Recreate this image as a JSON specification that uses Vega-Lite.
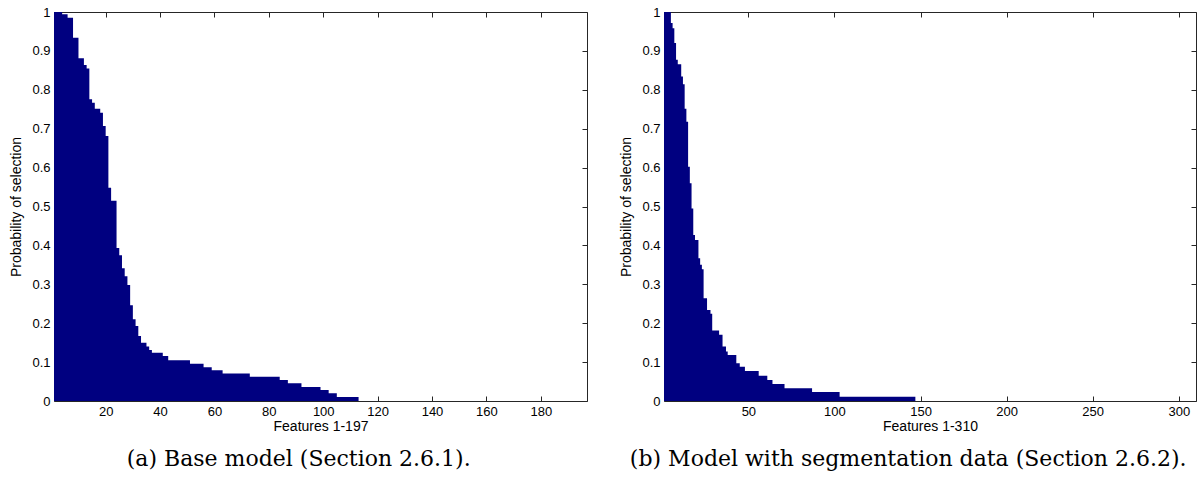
{
  "$schema": "https://vega.github.io/schema/vega-lite/v6.json",
  "padding": {"left": 9, "top": 5, "right": 2, "bottom": 5},
  "spacing": 31,
  "config": {
    "font": "Liberation Sans",
    "view": {"stroke": "#262626", "strokeWidth": 1},
    "axis": {
      "domain": false, "grid": false, "ticks": true, "tickSize": -5, "tickColor": "#262626",
      "labelPadding": 9, "labelFont": "Liberation Sans", "labelFontSize": 13, "labelColor": "#000",
      "titleFont": "Liberation Sans", "titleFontSize": 14, "titleFontWeight": "normal", "titleColor": "#000"
    }
  },
  "datasets": {
    "a": [
      {"feature":1,"prob":1},{"feature":2,"prob":1},{"feature":3,"prob":1},{"feature":4,"prob":0.994},{"feature":5,"prob":0.994},
      {"feature":6,"prob":0.985},{"feature":7,"prob":0.985},{"feature":8,"prob":0.934},{"feature":9,"prob":0.934},{"feature":10,"prob":0.881},
      {"feature":11,"prob":0.881},{"feature":12,"prob":0.864},{"feature":13,"prob":0.855},{"feature":14,"prob":0.776},{"feature":15,"prob":0.767},
      {"feature":16,"prob":0.751},{"feature":17,"prob":0.751},{"feature":18,"prob":0.741},{"feature":19,"prob":0.707},{"feature":20,"prob":0.681},
      {"feature":21,"prob":0.548},{"feature":22,"prob":0.515},{"feature":23,"prob":0.515},{"feature":24,"prob":0.393},{"feature":25,"prob":0.375},
      {"feature":26,"prob":0.341},{"feature":27,"prob":0.321},{"feature":28,"prob":0.298},{"feature":29,"prob":0.246},{"feature":30,"prob":0.21},
      {"feature":31,"prob":0.193},{"feature":32,"prob":0.167},{"feature":33,"prob":0.15},{"feature":34,"prob":0.15},{"feature":35,"prob":0.14},
      {"feature":36,"prob":0.131},{"feature":37,"prob":0.124},{"feature":38,"prob":0.124},{"feature":39,"prob":0.124},{"feature":40,"prob":0.124},
      {"feature":41,"prob":0.116},{"feature":42,"prob":0.116},{"feature":43,"prob":0.105},{"feature":44,"prob":0.105},{"feature":45,"prob":0.105},
      {"feature":46,"prob":0.105},{"feature":47,"prob":0.105},{"feature":48,"prob":0.105},{"feature":49,"prob":0.105},{"feature":50,"prob":0.105},
      {"feature":51,"prob":0.096},{"feature":52,"prob":0.096},{"feature":53,"prob":0.096},{"feature":54,"prob":0.096},{"feature":55,"prob":0.096},
      {"feature":56,"prob":0.087},{"feature":57,"prob":0.087},{"feature":58,"prob":0.087},{"feature":59,"prob":0.079},{"feature":60,"prob":0.079},
      {"feature":61,"prob":0.079},{"feature":62,"prob":0.079},{"feature":63,"prob":0.071},{"feature":64,"prob":0.071},{"feature":65,"prob":0.071},
      {"feature":66,"prob":0.071},{"feature":67,"prob":0.071},{"feature":68,"prob":0.071},{"feature":69,"prob":0.071},{"feature":70,"prob":0.071},
      {"feature":71,"prob":0.071},{"feature":72,"prob":0.071},{"feature":73,"prob":0.0625},{"feature":74,"prob":0.0625},{"feature":75,"prob":0.0625},
      {"feature":76,"prob":0.0625},{"feature":77,"prob":0.0625},{"feature":78,"prob":0.0625},{"feature":79,"prob":0.0625},{"feature":80,"prob":0.0625},
      {"feature":81,"prob":0.0625},{"feature":82,"prob":0.0625},{"feature":83,"prob":0.0625},{"feature":84,"prob":0.054},{"feature":85,"prob":0.054},
      {"feature":86,"prob":0.054},{"feature":87,"prob":0.0455},{"feature":88,"prob":0.0455},{"feature":89,"prob":0.0455},{"feature":90,"prob":0.0455},
      {"feature":91,"prob":0.0455},{"feature":92,"prob":0.036},{"feature":93,"prob":0.036},{"feature":94,"prob":0.036},{"feature":95,"prob":0.036},
      {"feature":96,"prob":0.036},{"feature":97,"prob":0.036},{"feature":98,"prob":0.036},{"feature":99,"prob":0.028},{"feature":100,"prob":0.028},
      {"feature":101,"prob":0.028},{"feature":102,"prob":0.0197},{"feature":103,"prob":0.0197},{"feature":104,"prob":0.0197},{"feature":105,"prob":0.0103},
      {"feature":106,"prob":0.0103},{"feature":107,"prob":0.0103},{"feature":108,"prob":0.0103},{"feature":109,"prob":0.0103},{"feature":110,"prob":0.0103},
      {"feature":111,"prob":0.0103},{"feature":112,"prob":0.0103},{"feature":113,"prob":0}
    ],
    "b": [
      {"feature":1,"prob":1},{"feature":2,"prob":1},{"feature":3,"prob":1},{"feature":4,"prob":1},{"feature":5,"prob":0.972},
      {"feature":6,"prob":0.958},{"feature":7,"prob":0.92},{"feature":8,"prob":0.877},{"feature":9,"prob":0.866},{"feature":10,"prob":0.866},
      {"feature":11,"prob":0.834},{"feature":12,"prob":0.814},{"feature":13,"prob":0.751},{"feature":14,"prob":0.718},{"feature":15,"prob":0.602},
      {"feature":16,"prob":0.56},{"feature":17,"prob":0.495},{"feature":18,"prob":0.427},{"feature":19,"prob":0.414},{"feature":20,"prob":0.414},
      {"feature":21,"prob":0.367},{"feature":22,"prob":0.35},{"feature":23,"prob":0.339},{"feature":24,"prob":0.264},{"feature":25,"prob":0.264},
      {"feature":26,"prob":0.234},{"feature":27,"prob":0.234},{"feature":28,"prob":0.224},{"feature":29,"prob":0.181},{"feature":30,"prob":0.181},
      {"feature":31,"prob":0.181},{"feature":32,"prob":0.181},{"feature":33,"prob":0.17},{"feature":34,"prob":0.17},{"feature":35,"prob":0.14},
      {"feature":36,"prob":0.14},{"feature":37,"prob":0.127},{"feature":38,"prob":0.118},{"feature":39,"prob":0.118},{"feature":40,"prob":0.118},
      {"feature":41,"prob":0.118},{"feature":42,"prob":0.118},{"feature":43,"prob":0.097},{"feature":44,"prob":0.097},{"feature":45,"prob":0.088},
      {"feature":46,"prob":0.088},{"feature":47,"prob":0.088},{"feature":48,"prob":0.077},{"feature":49,"prob":0.077},{"feature":50,"prob":0.077},
      {"feature":51,"prob":0.077},{"feature":52,"prob":0.077},{"feature":53,"prob":0.077},{"feature":54,"prob":0.077},{"feature":55,"prob":0.077},
      {"feature":56,"prob":0.065},{"feature":57,"prob":0.065},{"feature":58,"prob":0.065},{"feature":59,"prob":0.065},{"feature":60,"prob":0.065},
      {"feature":61,"prob":0.054},{"feature":62,"prob":0.054},{"feature":63,"prob":0.054},{"feature":64,"prob":0.044},{"feature":65,"prob":0.044},
      {"feature":66,"prob":0.044},{"feature":67,"prob":0.044},{"feature":68,"prob":0.044},{"feature":69,"prob":0.044},{"feature":70,"prob":0.044},
      {"feature":71,"prob":0.033},{"feature":72,"prob":0.033},{"feature":73,"prob":0.033},{"feature":74,"prob":0.033},{"feature":75,"prob":0.033},
      {"feature":76,"prob":0.033},{"feature":77,"prob":0.033},{"feature":78,"prob":0.033},{"feature":79,"prob":0.033},{"feature":80,"prob":0.033},
      {"feature":81,"prob":0.033},{"feature":82,"prob":0.033},{"feature":83,"prob":0.033},{"feature":84,"prob":0.033},{"feature":85,"prob":0.033},
      {"feature":86,"prob":0.033},{"feature":87,"prob":0.023},{"feature":88,"prob":0.023},{"feature":89,"prob":0.023},{"feature":90,"prob":0.023},
      {"feature":91,"prob":0.023},{"feature":92,"prob":0.023},{"feature":93,"prob":0.023},{"feature":94,"prob":0.023},{"feature":95,"prob":0.023},
      {"feature":96,"prob":0.023},{"feature":97,"prob":0.023},{"feature":98,"prob":0.023},{"feature":99,"prob":0.023},{"feature":100,"prob":0.023},
      {"feature":101,"prob":0.023},{"feature":102,"prob":0.023},{"feature":103,"prob":0.011},{"feature":104,"prob":0.011},{"feature":105,"prob":0.011},
      {"feature":106,"prob":0.011},{"feature":107,"prob":0.011},{"feature":108,"prob":0.011},{"feature":109,"prob":0.011},{"feature":110,"prob":0.011},
      {"feature":111,"prob":0.011},{"feature":112,"prob":0.011},{"feature":113,"prob":0.011},{"feature":114,"prob":0.011},{"feature":115,"prob":0.011},
      {"feature":116,"prob":0.011},{"feature":117,"prob":0.011},{"feature":118,"prob":0.011},{"feature":119,"prob":0.011},{"feature":120,"prob":0.011},
      {"feature":121,"prob":0.011},{"feature":122,"prob":0.011},{"feature":123,"prob":0.011},{"feature":124,"prob":0.011},{"feature":125,"prob":0.011},
      {"feature":126,"prob":0.011},{"feature":127,"prob":0.011},{"feature":128,"prob":0.011},{"feature":129,"prob":0.011},{"feature":130,"prob":0.011},
      {"feature":131,"prob":0.011},{"feature":132,"prob":0.011},{"feature":133,"prob":0.011},{"feature":134,"prob":0.011},{"feature":135,"prob":0.011},
      {"feature":136,"prob":0.011},{"feature":137,"prob":0.011},{"feature":138,"prob":0.011},{"feature":139,"prob":0.011},{"feature":140,"prob":0.011},
      {"feature":141,"prob":0.011},{"feature":142,"prob":0.011},{"feature":143,"prob":0.011},{"feature":144,"prob":0.011},{"feature":145,"prob":0.011},
      {"feature":146,"prob":0.011},{"feature":147,"prob":0}
    ]
  },
  "hconcat": [
    {
      "width": 533, "height": 389,
      "data": {"name": "a"},
      "title": {"text": "(a) Base model (Section 2.6.1).", "orient": "bottom", "frame": "bounds", "anchor": "middle", "font": "DejaVu Serif", "fontSize": 22, "fontWeight": "normal", "color": "#000", "offset": 16},
      "layer": [
        {
          "mark": {"type": "area", "interpolate": "step-after", "color": "#000080", "clip": true},
          "encoding": {
            "x": {"field": "feature", "type": "quantitative", "scale": {"domain": [1, 197], "nice": false, "zero": false},
                  "axis": {"orient": "bottom", "values": [20, 40, 60, 80, 100, 120, 140, 160, 180], "title": "Features 1-197", "titlePadding": 1}},
            "y": {"field": "prob", "type": "quantitative", "scale": {"domain": [0, 1], "nice": false},
                  "axis": {"orient": "left", "values": [0, 0.1, 0.2, 0.3, 0.4, 0.5, 0.6, 0.7, 0.8, 0.9, 1], "format": "~g", "title": "Probability of selection", "titlePadding": 8}}
          }
        },
        {
          "mark": {"type": "area", "interpolate": "step-after", "opacity": 0},
          "encoding": {
            "x": {"field": "feature", "type": "quantitative", "axis": {"orient": "top", "values": [20, 40, 60, 80, 100, 120, 140, 160, 180], "labels": false, "title": null}},
            "y": {"field": "prob", "type": "quantitative", "axis": {"orient": "right", "values": [0, 0.1, 0.2, 0.3, 0.4, 0.5, 0.6, 0.7, 0.8, 0.9, 1], "labels": false, "title": null}}
          }
        }
      ],
      "resolve": {"axis": {"x": "independent", "y": "independent"}}
    },
    {
      "width": 532, "height": 389,
      "data": {"name": "b"},
      "title": {"text": "(b) Model with segmentation data (Section 2.6.2).", "orient": "bottom", "frame": "bounds", "anchor": "middle", "font": "DejaVu Serif", "fontSize": 22, "fontWeight": "normal", "color": "#000", "offset": 16},
      "layer": [
        {
          "mark": {"type": "area", "interpolate": "step-after", "color": "#000080", "clip": true},
          "encoding": {
            "x": {"field": "feature", "type": "quantitative", "scale": {"domain": [1, 310], "nice": false, "zero": false},
                  "axis": {"orient": "bottom", "values": [50, 100, 150, 200, 250, 300], "title": "Features 1-310", "titlePadding": 1}},
            "y": {"field": "prob", "type": "quantitative", "scale": {"domain": [0, 1], "nice": false},
                  "axis": {"orient": "left", "values": [0, 0.1, 0.2, 0.3, 0.4, 0.5, 0.6, 0.7, 0.8, 0.9, 1], "format": "~g", "title": "Probability of selection", "titlePadding": 8}}
          }
        },
        {
          "mark": {"type": "area", "interpolate": "step-after", "opacity": 0},
          "encoding": {
            "x": {"field": "feature", "type": "quantitative", "axis": {"orient": "top", "values": [50, 100, 150, 200, 250, 300], "labels": false, "title": null}},
            "y": {"field": "prob", "type": "quantitative", "axis": {"orient": "right", "values": [0, 0.1, 0.2, 0.3, 0.4, 0.5, 0.6, 0.7, 0.8, 0.9, 1], "labels": false, "title": null}}
          }
        }
      ],
      "resolve": {"axis": {"x": "independent", "y": "independent"}}
    }
  ]
}
